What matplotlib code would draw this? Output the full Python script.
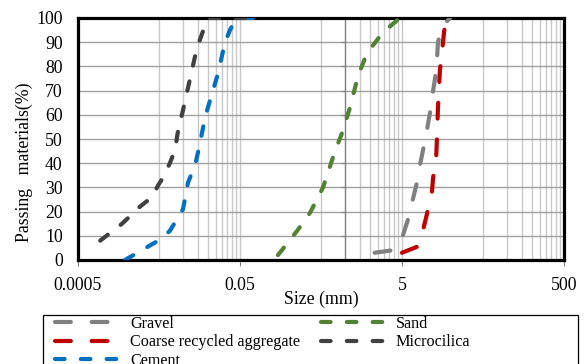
import matplotlib
matplotlib.use("Agg")
import matplotlib.pyplot as plt
from matplotlib.patches import Rectangle
from matplotlib.ticker import NullFormatter

plt.rcParams['font.family'] = ['Liberation Serif', 'DejaVu Serif']

# Particle size distribution curves: size (mm) vs passing (%)
gravel_size = [2.3, 3.8, 5.0, 5.9, 6.8, 7.65, 8.3, 9.1, 10.2, 11.1, 11.7, 12.8, 13.5, 13.9, 16.0, 19.6]
gravel_pass = [3, 4, 9, 16.5, 25, 32, 39, 45.5, 54, 61, 67, 75, 82.6, 90, 97, 100]

recycled_size = [5.0, 7.6, 9.1, 10.5, 11.7, 12.1, 13.2, 13.5, 13.9, 14.7, 15.6, 16.5, 17.5]
recycled_pass = [3, 5.4, 12.4, 21, 28, 34, 42, 50, 63, 78.5, 86, 94, 100]

cement_size = [0.0019, 0.0049, 0.0068, 0.0099, 0.0114, 0.0139, 0.016, 0.0185, 0.0232, 0.0267, 0.0327, 0.0376, 0.0434, 0.05, 0.1]
cement_pass = [0, 8, 12, 21, 32, 39, 48, 59, 70, 77, 90, 95, 99, 100, 100]

sand_size = [0.147, 0.253, 0.366, 0.53, 0.745, 0.91, 1.14, 1.43, 1.85, 2.9, 4.7]
sand_pass = [2, 12, 19.5, 30, 45, 52.5, 63, 76, 85.5, 94, 100]

micro_size = [0.00094, 0.00175, 0.0029, 0.0041, 0.0049, 0.0056, 0.0068, 0.0079, 0.0085, 0.0099, 0.0139, 0.016, 0.020, 0.08]
micro_pass = [8, 15, 22, 26, 31, 34, 40, 45.5, 52.5, 62, 84, 91, 100, 100]

x_ticks = [0.0005, 0.05, 5, 500]
x_tick_labels = ["0.0005", "0.05", "5", "500"]
y_ticks = list(range(0, 101, 10))

W, H = 584, 364
fig = plt.figure(figsize=(W / 100, H / 100), dpi=100)
ax = fig.add_axes([78 / W, 1 - 260 / H, (564 - 78) / W, (260 - 18) / H])

ax.set_xscale("log")
ax.set_xlim(0.0005, 500)
ax.set_ylim(0, 100)

# gridlines
minor_x = [m * d for d in (0.005, 0.5, 50) for m in range(1, 10)]
ax.set_xticks(x_ticks)
ax.set_xticklabels(x_tick_labels)
ax.set_xticks(minor_x, minor=True)
ax.xaxis.set_minor_formatter(NullFormatter())
ax.set_yticks(y_ticks)
ax.grid(True, which="both", axis="x", color="#c8c8c8", lw=1.0, zorder=0)
ax.grid(True, which="major", axis="y", color="#a0a0a0", lw=1.0, zorder=0)
ax.set_axisbelow(True)

ax.tick_params(axis="x", which="major", direction="out", length=4, width=0.8,
               color="#808080", labelsize=12.8, pad=8)
ax.tick_params(axis="x", which="minor", length=0)
ax.tick_params(axis="y", length=0, labelsize=12.8, pad=11)

# value axis crossing at 1 mm
ax.axvline(1, color="#7f7f7f", lw=0.9, zorder=1)
ax.plot([1] * len(y_ticks), y_ticks, ls="none", marker=0, ms=3,
        mew=0.8, color="#7f7f7f", zorder=1, clip_on=False)

for s in ax.spines.values():
    s.set_linewidth(2.3)
    s.set_color("black")

lw = 3.0
long_dash = (0, (3.8, 5.0))
short_dash = (0, (2.3, 3.9))
series = [
    (gravel_size, gravel_pass, "#808080", long_dash, "Gravel"),
    (recycled_size, recycled_pass, "#c00000", long_dash, "Coarse recycled aggregate"),
    (cement_size, cement_pass, "#0070c0", short_dash, "Cement"),
    (sand_size, sand_pass, "#548235", short_dash, "Sand"),
    (micro_size, micro_pass, "#404040", short_dash, "Microcilica"),
]
handles = []
for xs, ys, c, ls, lab in series:
    ln, = ax.plot(xs, ys, color=c, lw=lw, ls=ls, dash_capstyle="round",
                  solid_capstyle="round", label=lab, zorder=3)
    handles.append(ln)

ax.set_xlabel("Size (mm)", fontsize=12.8, labelpad=-2)
ax.set_ylabel("Passing   materials(%)", fontsize=12.8)
ax.yaxis.set_label_coords(-0.092, 0.405)

leg = fig.legend(handles=handles, loc="upper left",
                 bbox_to_anchor=(55 / W, 1 - 316 / H), ncol=2, frameon=False,
                 fontsize=11.6, handlelength=4.2, handletextpad=0.45,
                 columnspacing=1.3, labelspacing=0.15, borderpad=0,
                 borderaxespad=0)

fig.patches.append(Rectangle((43 / W, -10 / H), (578 - 43) / W, (364 + 10 - 315) / H,
                             transform=fig.transFigure, fill=False,
                             edgecolor="black", lw=0.9))

fig.savefig("out.png", dpi=100)
